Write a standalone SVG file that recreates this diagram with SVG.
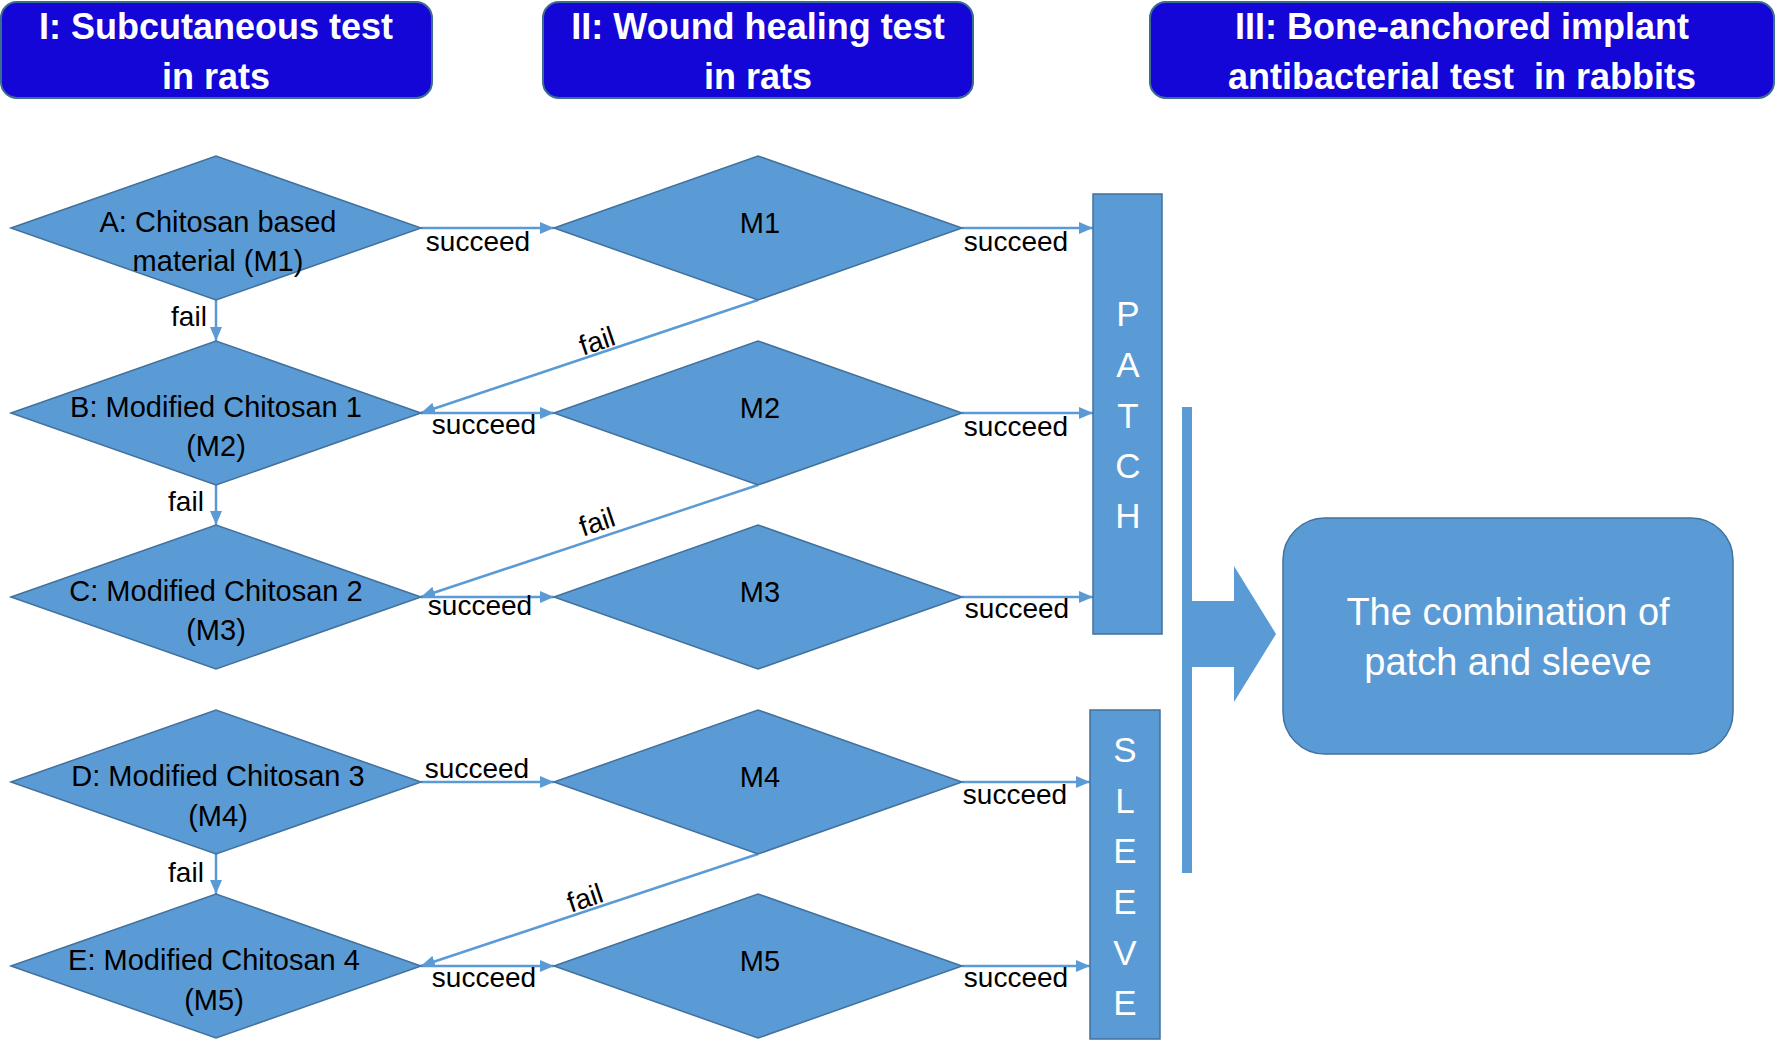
<svg xmlns="http://www.w3.org/2000/svg" width="1775" height="1040" viewBox="0 0 1775 1040">
<style>
.hdr{fill:#1306D6;stroke:#3B6D8E;stroke-width:2}
.htx{font-family:"Liberation Sans",Arial,sans-serif;font-weight:bold;font-size:36px;fill:#fff;text-anchor:middle}
.dia{fill:#5B9BD5;stroke:#41719C;stroke-width:1.5}
.dtx{font-family:"Liberation Sans",Arial,sans-serif;font-size:29px;fill:#000;text-anchor:middle}
.lbl{font-family:"Liberation Sans",Arial,sans-serif;font-size:28px;fill:#000;text-anchor:middle}
.con{stroke:#5B9BD5;stroke-width:2.5;fill:none;marker-end:url(#ah)}
.box{fill:#5B9BD5;stroke:#41719C;stroke-width:1.5}
.btx{font-family:"Liberation Sans",Arial,sans-serif;font-size:35px;fill:#fff;text-anchor:middle}
.rtx{font-family:"Liberation Sans",Arial,sans-serif;font-size:38px;fill:#fff;text-anchor:middle}
</style>
<defs>
<marker id="ah" markerUnits="userSpaceOnUse" markerWidth="14" markerHeight="12" viewBox="0 0 14 12" refX="14" refY="6" orient="auto">
<path d="M0,0 L14,6 L0,12 z" fill="#5B9BD5"/>
</marker>
</defs>
<rect width="1775" height="1040" fill="#fff"/>

<g id="header1"><rect class="hdr" x="1" y="2" width="431" height="96" rx="16"/>
<text class="htx" x="216" y="39">I: Subcutaneous test</text><text class="htx" x="216" y="89">in rats</text></g>
<g id="header2"><rect class="hdr" x="543" y="2" width="430" height="96" rx="16"/>
<text class="htx" x="758" y="39">II: Wound healing test</text><text class="htx" x="758" y="89">in rats</text></g>
<g id="header3"><rect class="hdr" x="1150" y="2" width="624" height="96" rx="16"/>
<text class="htx" x="1462" y="39">III: Bone-anchored implant</text><text class="htx" x="1462" y="89" xml:space="preserve">antibacterial test  in rabbits</text></g>

<g id="connectors">
<line class="con" x1="421" y1="228" x2="554" y2="228"/>
<line class="con" x1="421" y1="413" x2="554" y2="413"/>
<line class="con" x1="421" y1="597" x2="554" y2="597"/>
<line class="con" x1="421" y1="782" x2="554" y2="782"/>
<line class="con" x1="421" y1="966" x2="554" y2="966"/>
<line class="con" x1="962" y1="228" x2="1093" y2="228"/>
<line class="con" x1="962" y1="413" x2="1093" y2="413"/>
<line class="con" x1="962" y1="597" x2="1093" y2="597"/>
<line class="con" x1="962" y1="782" x2="1090" y2="782"/>
<line class="con" x1="962" y1="966" x2="1090" y2="966"/>
<line class="con" x1="216" y1="300" x2="216" y2="341"/>
<line class="con" x1="216" y1="485" x2="216" y2="525"/>
<line class="con" x1="216" y1="854" x2="216" y2="894"/>
<line class="con" x1="758" y1="300" x2="421" y2="413"/>
<line class="con" x1="758" y1="485" x2="421" y2="597"/>
<line class="con" x1="758" y1="854" x2="421" y2="966"/>
<text class="lbl" x="478" y="251">succeed</text>
<text class="lbl" x="1016" y="251">succeed</text>
<text class="lbl" x="484" y="434">succeed</text>
<text class="lbl" x="1016" y="436">succeed</text>
<text class="lbl" x="480" y="615">succeed</text>
<text class="lbl" x="1017" y="618">succeed</text>
<text class="lbl" x="477" y="778">succeed</text>
<text class="lbl" x="1015" y="804">succeed</text>
<text class="lbl" x="484" y="987">succeed</text>
<text class="lbl" x="1016" y="987">succeed</text>
<text class="lbl" x="189" y="326">fail</text>
<text class="lbl" x="186" y="511">fail</text>
<text class="lbl" x="186" y="882">fail</text>
<text class="lbl" transform="translate(600,350) rotate(-18.5)" x="0" y="0">fail</text>
<text class="lbl" transform="translate(600,531) rotate(-18.5)" x="0" y="0">fail</text>
<text class="lbl" transform="translate(588,907) rotate(-18.5)" x="0" y="0">fail</text>
</g>

<g id="nodeA"><polygon class="dia" points="11,228 216,156 421,228 216,300"/>
<text class="dtx" x="218" y="232">A: Chitosan based</text><text class="dtx" x="218" y="271">material (M1)</text></g>
<g id="nodeB"><polygon class="dia" points="11,413 216,341 421,413 216,485"/>
<text class="dtx" x="216" y="417">B: Modified Chitosan 1</text><text class="dtx" x="216" y="456">(M2)</text></g>
<g id="nodeC"><polygon class="dia" points="11,597 216,525 421,597 216,669"/>
<text class="dtx" x="216" y="601">C: Modified Chitosan 2</text><text class="dtx" x="216" y="640">(M3)</text></g>
<g id="nodeD"><polygon class="dia" points="11,782 216,710 421,782 216,854"/>
<text class="dtx" x="218" y="786">D: Modified Chitosan 3</text><text class="dtx" x="218" y="826">(M4)</text></g>
<g id="nodeE"><polygon class="dia" points="11,966 216,894 421,966 216,1038"/>
<text class="dtx" x="214" y="970">E: Modified Chitosan 4</text><text class="dtx" x="214" y="1010">(M5)</text></g>

<g id="nodeM1"><polygon class="dia" points="554,228 758,156 962,228 758,300"/><text class="dtx" x="760" y="233">M1</text></g>
<g id="nodeM2"><polygon class="dia" points="554,413 758,341 962,413 758,485"/><text class="dtx" x="760" y="418">M2</text></g>
<g id="nodeM3"><polygon class="dia" points="554,597 758,525 962,597 758,669"/><text class="dtx" x="760" y="602">M3</text></g>
<g id="nodeM4"><polygon class="dia" points="554,782 758,710 962,782 758,854"/><text class="dtx" x="760" y="787">M4</text></g>
<g id="nodeM5"><polygon class="dia" points="554,966 758,894 962,966 758,1038"/><text class="dtx" x="760" y="971">M5</text></g>

<g id="patch"><rect class="box" x="1093" y="194" width="69" height="440"/>
<text class="btx" x="1128" y="326">P</text><text class="btx" x="1128" y="377">A</text><text class="btx" x="1128" y="428">T</text><text class="btx" x="1128" y="478">C</text><text class="btx" x="1128" y="528">H</text></g>
<g id="sleeve"><rect class="box" x="1090" y="710" width="70" height="329"/>
<text class="btx" x="1125" y="762">S</text><text class="btx" x="1125" y="813">L</text><text class="btx" x="1125" y="863">E</text><text class="btx" x="1125" y="914">E</text><text class="btx" x="1125" y="965">V</text><text class="btx" x="1125" y="1015">E</text></g>
<g id="bar"><rect x="1182" y="407" width="10" height="466" fill="#5B9BD5"/></g>
<g id="bigarrow"><polygon points="1192,601 1234,601 1234,566 1276,634 1234,702 1234,667 1192,667" fill="#5B9BD5"/></g>
<g id="result"><rect class="box" x="1283" y="518" width="450" height="236" rx="42" stroke-width="2"/>
<text class="rtx" x="1508" y="625">The combination of</text><text class="rtx" x="1508" y="675">patch and sleeve</text></g>
</svg>
